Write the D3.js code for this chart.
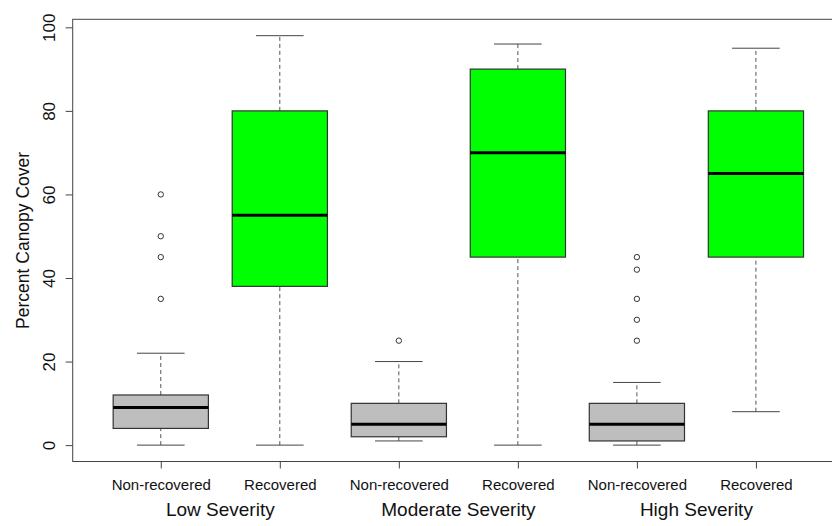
<!DOCTYPE html>
<html>
<head>
<meta charset="utf-8">
<script src="https://cdn.jsdelivr.net/npm/d3@7"></script>
<style>
  html, body { margin: 0; padding: 0; background: #fff; overflow: hidden; }
  svg { display: block; font-family: "Liberation Sans", Arial, sans-serif; }
</style>
</head>
<body>
<svg id="chart" width="832" height="526"></svg>
<script>
// ---- data ----
const categories = ["Non-recovered", "Recovered", "Non-recovered", "Recovered", "Non-recovered", "Recovered"];
const groups = ["Low Severity", "Moderate Severity", "High Severity"];
const whiskerLow  = [0, 0, 1, 0, 0, 8];
const q1          = [4, 38, 2, 45, 1, 45];
const median      = [9, 55, 5, 70, 5, 65];
const q3          = [12, 80, 10, 90, 10, 80];
const whiskerHigh = [22, 98, 20, 96, 15, 95];
const outliers    = [[35, 45, 50, 60], [], [25], [], [25, 30, 35, 42, 45], []];
const yTicks = [0, 20, 40, 60, 80, 100];
const yLabel = "Percent Canopy Cover";

// ---- styles ----
const fillFor = c => c === "Recovered" ? "#00ff00" : "#bebebe";

const svg = d3.select("#chart");
const x = d3.scaleLinear().domain([0.26, 6.74]).range([72.7, 844]);
const y = d3.scaleLinear().domain([-3.92, 101.92]).range([461.5, 19.3]);
const boxW = x(1.8) - x(1);     // 0.8 units
const capW = x(1.4) - x(1);     // 0.4 units

const idx = d3.range(categories.length);
const g = svg.append("g");

// whiskers (dashed)
g.selectAll("line.wlo").data(idx).join("line")
  .attr("x1", i => x(i + 1)).attr("x2", i => x(i + 1))
  .attr("y1", i => y(whiskerLow[i])).attr("y2", i => y(q1[i]))
  .attr("stroke", "#555").attr("stroke-dasharray", "4,3").attr("stroke-width", 1);
g.selectAll("line.whi").data(idx).join("line")
  .attr("x1", i => x(i + 1)).attr("x2", i => x(i + 1))
  .attr("y1", i => y(q3[i])).attr("y2", i => y(whiskerHigh[i]))
  .attr("stroke", "#555").attr("stroke-dasharray", "4,3").attr("stroke-width", 1);
// caps
[whiskerLow, whiskerHigh].forEach(arr => {
  g.append("g").selectAll("line").data(idx).join("line")
    .attr("x1", i => x(i + 1) - capW / 2).attr("x2", i => x(i + 1) + capW / 2)
    .attr("y1", i => y(arr[i])).attr("y2", i => y(arr[i]))
    .attr("stroke", "#444").attr("stroke-width", 1);
});
// boxes
g.selectAll("rect.box").data(idx).join("rect")
  .attr("x", i => x(i + 1) - boxW / 2).attr("width", boxW)
  .attr("y", i => y(q3[i])).attr("height", i => y(q1[i]) - y(q3[i]))
  .attr("fill", i => fillFor(categories[i]))
  .attr("stroke", "#333").attr("stroke-width", 1.2);
// medians
g.selectAll("line.med").data(idx).join("line")
  .attr("x1", i => x(i + 1) - boxW / 2).attr("x2", i => x(i + 1) + boxW / 2)
  .attr("y1", i => y(median[i])).attr("y2", i => y(median[i]))
  .attr("stroke", "#000").attr("stroke-width", 3);
// outliers
const outPts = idx.flatMap(i => outliers[i].map(v => ({ i, v })));
g.selectAll("circle").data(outPts).join("circle")
  .attr("cx", d => x(d.i + 1)).attr("cy", d => y(d.v)).attr("r", 2.7)
  .attr("fill", "none").attr("stroke", "#333").attr("stroke-width", 1);

// frame
svg.append("rect")
  .attr("x", x.range()[0]).attr("y", y.range()[1])
  .attr("width", x.range()[1] - x.range()[0]).attr("height", y.range()[0] - y.range()[1])
  .attr("fill", "none").attr("stroke", "#444").attr("stroke-width", 1);

// y axis
const ya = svg.append("g").attr("transform", `translate(${x.range()[0]},0)`)
  .call(d3.axisLeft(y).tickValues(yTicks).tickSize(7).tickFormat(d3.format("d")));
ya.select(".domain").remove();
ya.selectAll(".tick line").attr("stroke", "#444");
ya.selectAll(".tick text")
  .attr("transform", "rotate(-90)").attr("x", 0).attr("y", -17.7).attr("dy", 0)
  .attr("text-anchor", "middle").attr("font-size", 17).attr("fill", "#111")
  .style("font-family", "'Liberation Sans', Arial, sans-serif");

// x axis
const xa = svg.append("g").attr("transform", `translate(0,${y.range()[0]})`)
  .call(d3.axisBottom(x).tickValues(idx.map(i => i + 1)).tickSize(7).tickFormat(d => categories[d - 1]));
xa.select(".domain").remove();
xa.selectAll(".tick line").attr("stroke", "#444");
xa.selectAll(".tick text").attr("y", 28.5).attr("dy", 0)
  .attr("font-size", 15).attr("fill", "#111")
  .style("font-family", "'Liberation Sans', Arial, sans-serif");

// group labels
svg.append("g").selectAll("text").data(groups).join("text")
  .attr("x", (d, k) => x(2 * k + 1.5)).attr("y", 515.5)
  .attr("text-anchor", "middle").attr("font-size", 19).attr("fill", "#111")
  .text(d => d);

// y label
svg.append("text")
  .attr("transform", `translate(29,${(y.range()[0] + y.range()[1]) / 2}) rotate(-90)`)
  .attr("text-anchor", "middle").attr("font-size", 17.5).attr("fill", "#111")
  .text(yLabel);
</script>
</body>
</html>
